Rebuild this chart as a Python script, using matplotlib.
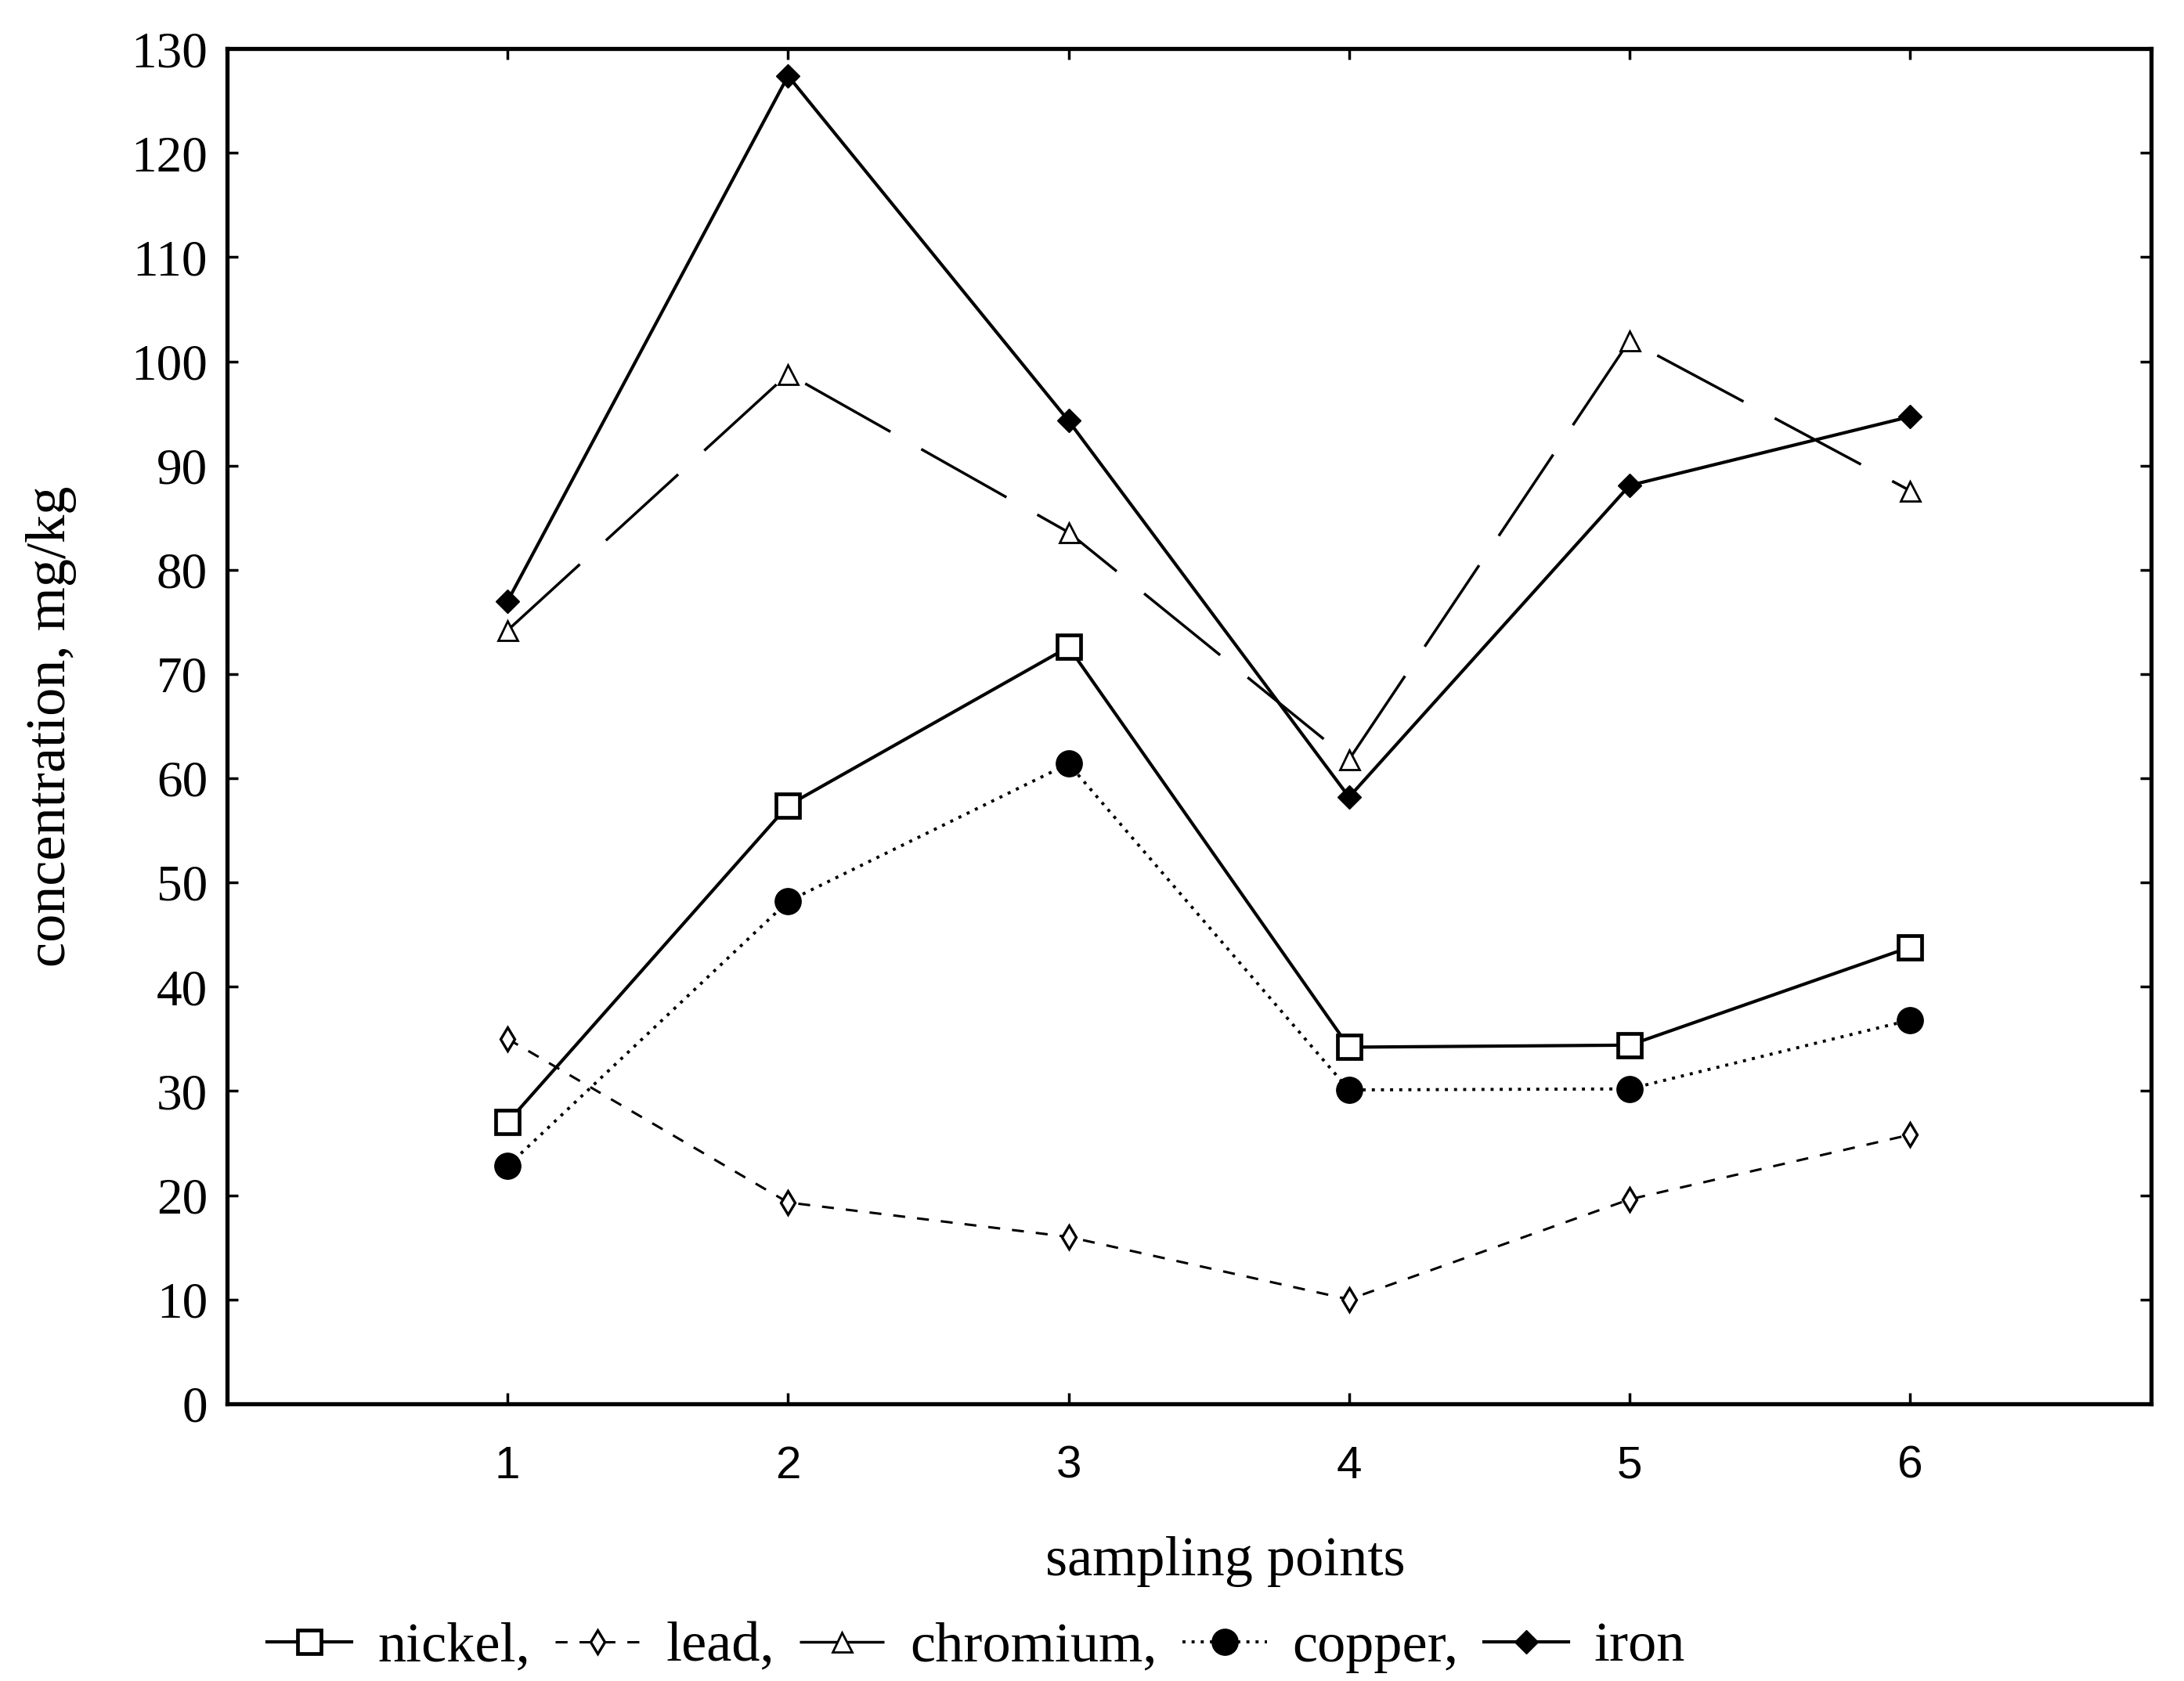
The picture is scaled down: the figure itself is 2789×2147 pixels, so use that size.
import matplotlib
matplotlib.use('Agg')
import matplotlib.pyplot as plt

plt.rcParams['font.family'] = ['Liberation Serif', 'DejaVu Serif']

points = [1, 2, 3, 4, 5, 6]
nickel = [27.0, 57.4, 72.6, 34.2, 34.4, 43.8]
lead = [35.0, 19.3, 16.0, 10.0, 19.6, 25.8]
chromium = [74.2, 98.8, 83.6, 61.8, 102.0, 87.6]
copper = [22.8, 48.2, 61.4, 30.1, 30.2, 36.8]
iron = [77.0, 127.4, 94.3, 58.2, 88.1, 94.7]

y_ticks = list(range(0, 131, 10))

fig = plt.figure(figsize=(27.89, 21.47), dpi=100)
ax = fig.add_axes([0.104, 0.165, 0.881, 0.806])

ax.plot(points, nickel, color='black', lw=3.0, marker='s', ms=22, mfc='white',
        mec='black', mew=3.4, label='nickel,', zorder=3)
ax.plot(points, lead, color='black', lw=2.2, dashes=(5, 5), marker='d', ms=15,
        mfc='white', mec='black', mew=2.4, label='lead,', zorder=3)
ax.plot(points, chromium, color='black', lw=2.5, dashes=(36, 13), marker='^', ms=18,
        mfc='white', mec='black', mew=2.0, label='chromium,', zorder=3)
ax.plot(points, copper, color='black', lw=2.8, dashes=(1, 2.0), marker='o', ms=24,
        mfc='black', mec='black', label='copper,', zorder=3)
ax.plot(points, iron, color='black', lw=3.0, marker='D', ms=15, mfc='black',
        mec='black', label='iron', zorder=3)

ax.set_xlim(0, 6.86)
ax.set_ylim(0, 130)
ax.set_xticks(points)
ax.set_yticks(y_ticks)
ax.set_xticklabels([str(p) for p in points], family='Liberation Sans', fontsize=42)
ax.set_yticklabels([str(v) for v in y_ticks], fontsize=47)
ax.tick_params(axis='both', direction='in', length=10, width=2.5,
               top=True, right=True)
ax.tick_params(axis='x', pad=38)
ax.tick_params(axis='y', pad=18)
for s in ax.spines.values():
    s.set_linewidth(3.8)

ax.set_xlabel('sampling points', fontsize=52, va='top')
ax.xaxis.set_label_coords(0.519, -0.098)
ax.set_ylabel('concentration, mg/kg', fontsize=52)
ax.yaxis.set_label_coords(-0.078, 0.50)

fig.legend(loc='center', bbox_to_anchor=(0.447, 0.02), ncol=5, frameon=False,
           fontsize=52, handlelength=1.5, handletextpad=0.45, columnspacing=0.45,
           borderpad=0, borderaxespad=0)

fig.savefig('out.png', dpi=100)
